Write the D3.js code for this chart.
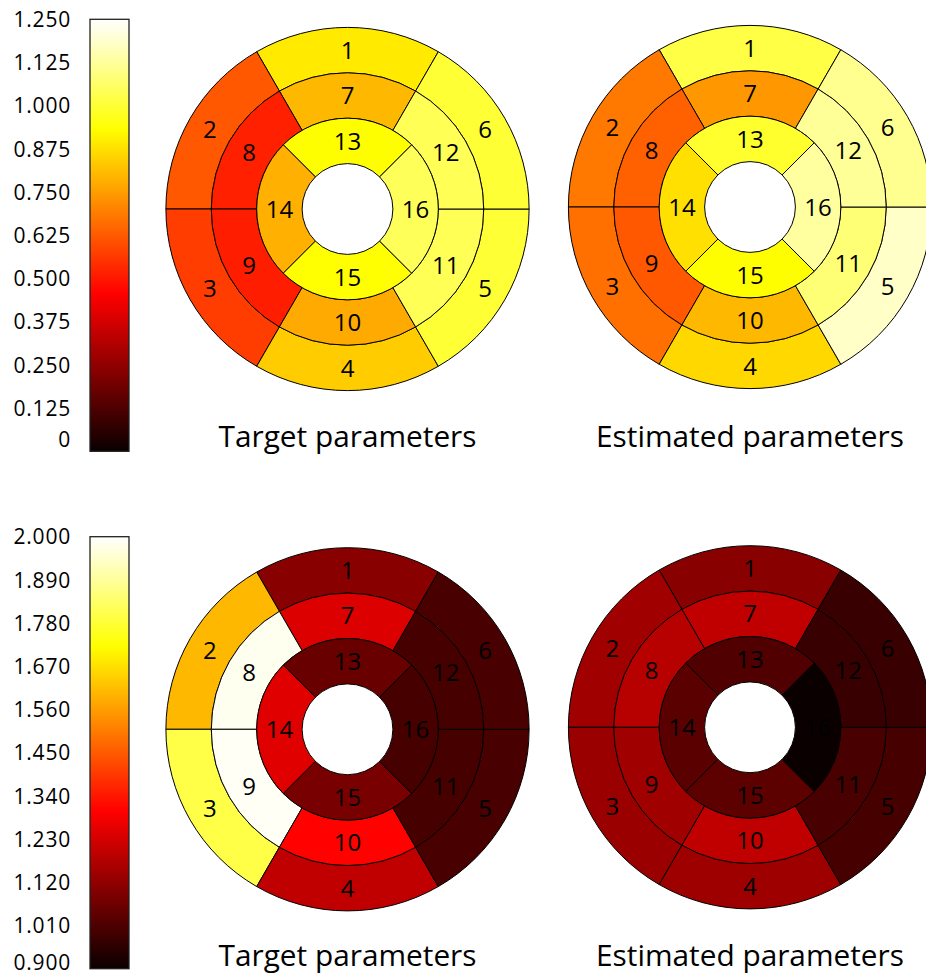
<!DOCTYPE html>
<html>
<head>
<meta charset="utf-8">
<script src="https://cdn.jsdelivr.net/npm/d3@7"></script>
<style>
html,body{margin:0;padding:0;background:#fff;}
svg{display:block;}
text{font-family:"Open Sans","Noto Sans",sans-serif;fill:#000;}
</style>
</head>
<body>
<svg id="chart" width="926" height="977"></svg>
<script>
// ---- data ----
const segments = d3.range(1, 17);
const titles = ["Target parameters", "Estimated parameters"];
// row 1 (colour range 0 .. 1.25)
const targetTop    = [0.894, 0.62, 0.57, 0.838, 1.0, 1.0, 0.80, 0.516, 0.51, 0.774, 1.04, 1.04, 0.93, 0.785, 0.935, 1.045];
const estimatedTop = [1.02, 0.68, 0.666, 0.86, 1.18, 1.11, 0.74, 0.635, 0.62, 0.80, 1.08, 1.12, 0.99, 0.875, 0.93, 1.13];
// row 2 (colour range 0.9 .. 2.0)
const targetBottom    = [1.106, 1.604, 1.80, 1.198, 1.001, 1.001, 1.246, 1.983, 1.99, 1.305, 1.0, 1.0, 1.053, 1.25, 1.08, 0.998];
const estimatedBottom = [1.106, 1.145, 1.135, 1.143, 1.0, 0.975, 1.198, 1.184, 1.145, 1.198, 1.003, 0.975, 1.014, 1.03, 1.035, 0.9];
const ticksTop    = [0, 0.125, 0.25, 0.375, 0.5, 0.625, 0.75, 0.875, 1.0, 1.125, 1.25];
const tickLabelsTop = ["0", "0.125", "0.250", "0.375", "0.500", "0.625", "0.750", "0.875", "1.000", "1.125", "1.250"];
const ticksBottom = [0.9, 1.01, 1.12, 1.23, 1.34, 1.45, 1.56, 1.67, 1.78, 1.89, 2.0];
const tickLabelsBottom = ["0.900", "1.010", "1.120", "1.230", "1.340", "1.450", "1.560", "1.670", "1.780", "1.890", "2.000"];
const domainTop = [0, 1.25];
const domainBottom = [0.9, 2.0];

// ---- matplotlib "hot" colormap ----
function hot(t) {
  t = Math.max(0, Math.min(1, t));
  const a = 0.365079, b = 0.746032;
  const r = t < a ? 0.0416 + (1 - 0.0416) * t / a : 1;
  const g = t < a ? 0 : (t < b ? (t - a) / (b - a) : 1);
  const bl = t < b ? 0 : (t - b) / (1 - b);
  return d3.rgb(r * 255, g * 255, bl * 255).formatHex();
}

const svg = d3.select("#chart");
const defs = svg.append("defs");

const rows = [
  {domain: domainTop, ticks: ticksTop, labels: tickLabelsTop, data: [targetTop, estimatedTop], barTop: 19.3, cy: [209, 207], titleY: 447},
  {domain: domainBottom, ticks: ticksBottom, labels: tickLabelsBottom, data: [targetBottom, estimatedBottom], barTop: 536.7, cy: [729.3, 727.3], titleY: 966}
];
const cxs = [347.5, 750];
const unit = 45.4;
const radii = [unit, 2 * unit, 3 * unit, 4 * unit];
const barX = 90, barW = 39, barH = 432;

// ring definitions
const rings = [
  {r0: radii[2], r1: radii[3], n: 6, start: 0},
  {r0: radii[1], r1: radii[2], n: 6, start: 6},
  {r0: radii[0], r1: radii[1], n: 4, start: 12}
];
function segGeom(k) {
  const ring = k < 6 ? rings[0] : (k < 12 ? rings[1] : rings[2]);
  const i = k - ring.start;
  const step = 2 * Math.PI / ring.n;
  const c = -i * step;
  return {innerRadius: ring.r0, outerRadius: ring.r1, startAngle: c - step / 2, endAngle: c + step / 2, mid: c, rm: (ring.r0 + ring.r1) / 2};
}
const arc = d3.arc();

rows.forEach((row, ri) => {
  const color = v => hot((v - row.domain[0]) / (row.domain[1] - row.domain[0]));

  // colour bar
  const gid = "grad" + ri;
  const grad = defs.append("linearGradient").attr("id", gid)
    .attr("x1", 0).attr("y1", 1).attr("x2", 0).attr("y2", 0);
  d3.range(0, 1.0001, 0.01).forEach(t => {
    grad.append("stop").attr("offset", t).attr("stop-color", hot(t));
  });
  const y = d3.scaleLinear().domain(row.domain).range([row.barTop + barH, row.barTop]);
  svg.append("rect").attr("x", barX).attr("y", row.barTop).attr("width", barW).attr("height", barH)
    .attr("fill", `url(#${gid})`).attr("stroke", "#222").attr("stroke-width", 1.3);
  const axis = d3.axisLeft(y).tickValues(row.ticks).tickSize(0).tickPadding(0)
    .tickFormat((d, i) => row.labels[i]);
  const ag = svg.append("g").attr("transform", `translate(71,0)`).call(axis);
  ag.select(".domain").remove();
  ag.selectAll("text").attr("font-size", 21).attr("font-family", "Open Sans").attr("fill", "#000")
    .attr("letter-spacing", 0.8)
    .attr("dy", (d, i) => (i === 0) ? (ri === 0 ? "-0.22em" : "0.04em") : "0.34em");

  // bullseyes
  row.data.forEach((vals, pi) => {
    const g = svg.append("g").attr("transform", `translate(${cxs[pi]},${row.cy[pi]})`);
    g.selectAll("path").data(segments).join("path")
      .attr("d", s => arc(segGeom(s - 1)))
      .attr("fill", s => color(vals[s - 1]))
      .attr("stroke", "#000").attr("stroke-width", 1);
    g.selectAll("text").data(segments).join("text")
      .attr("x", s => { const q = segGeom(s - 1); return q.rm * Math.sin(q.mid); })
      .attr("y", s => { const q = segGeom(s - 1); return -q.rm * Math.cos(q.mid); })
      .attr("text-anchor", "middle").attr("dy", "0.36em")
      .attr("font-size", 24)
      .text(s => s);
    svg.append("text").attr("x", cxs[pi]).attr("y", row.titleY)
      .attr("text-anchor", "middle").attr("font-size", 29.8).text(titles[pi]);
  });
});
</script>
</body>
</html>
